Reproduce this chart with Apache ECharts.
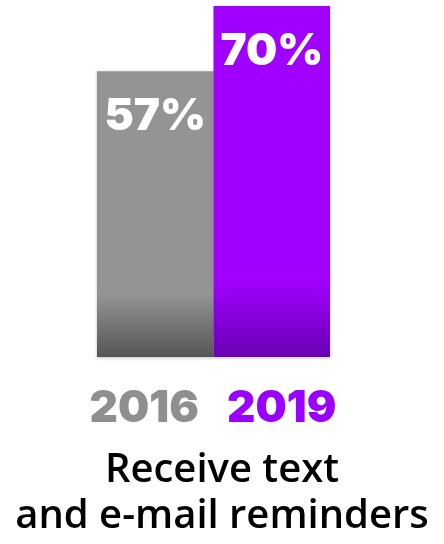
<!DOCTYPE html>
<html>
<head>
<meta charset="utf-8">
<style>
  html, body { margin: 0; padding: 0; background: #fff; }
  #chart { width: 444px; height: 544px; }
</style>
<script src="https://cdn.jsdelivr.net/npm/echarts@6/dist/echarts.min.js"></script>
</head>
<body>
<div id="chart"></div>
<script>
// Survey years and share of respondents (percent)
const years = ['2016', '2019'];
const shares = [57, 70];
const caption = 'Receive text\nand e-mail reminders';

// Bar palette: flat top colour that darkens toward the baseline
const topColors = ['#949494', '#a000ff'];
const baseColors = ['#555555', '#6a00b4'];
const yearColors = ['#8f8f8f', '#9a00ff'];

const numberFont = 'Inter';

function fade(i) {
  return new echarts.graphic.LinearGradient(0, 0, 0, 1, [
    { offset: 0, color: topColors[i] },
    { offset: 0.78, color: topColors[i] },
    { offset: 1, color: baseColors[i] }
  ]);
}

const chart = echarts.init(document.getElementById('chart'), null, { renderer: 'canvas' });

chart.setOption({
  backgroundColor: '#ffffff',
  animation: false,
  title: {
    text: caption,
    left: 'center',
    top: 443,
    textStyle: {
      fontFamily: 'Open Sans',
      fontWeight: 600,
      fontSize: 40,
      lineHeight: 46,
      color: '#000000'
    }
  },
  grid: { left: 97, right: 114, top: 6, bottom: 187 },
  xAxis: {
    type: 'category',
    data: years,
    axisLine: { show: false },
    axisTick: { show: false },
    axisLabel: {
      interval: 0,
      hideOverlap: false,
      margin: 30,
      formatter: function (v, idx) { return '{y' + idx + '|' + v + '}'; },
      rich: {
        y0: {
          fontFamily: numberFont, fontWeight: 900, fontSize: 44,
          lineHeight: 44, color: yearColors[0], padding: [0, 22, 0, 0]
        },
        y1: {
          fontFamily: numberFont, fontWeight: 900, fontSize: 44,
          lineHeight: 44, color: yearColors[1], padding: [0, 0, 0, 20]
        }
      }
    }
  },
  yAxis: {
    type: 'value',
    min: 0,
    max: 70,
    show: false,
    splitLine: { show: false }
  },
  series: [{
    type: 'bar',
    barCategoryGap: 0,
    data: shares.map(function (v, i) {
      return { value: v, itemStyle: { color: fade(i) } };
    }),
    itemStyle: {
      shadowColor: 'rgba(0,0,0,0.25)',
      shadowBlur: 3,
      shadowOffsetY: 1
    },
    label: {
      show: true,
      position: 'insideTop',
      distance: 24,
      formatter: function (p) { return p.value + '%'; },
      fontFamily: numberFont,
      fontWeight: 900,
      fontSize: 44,
      lineHeight: 44,
      color: '#ffffff'
    }
  }]
});
</script>
</body>
</html>
